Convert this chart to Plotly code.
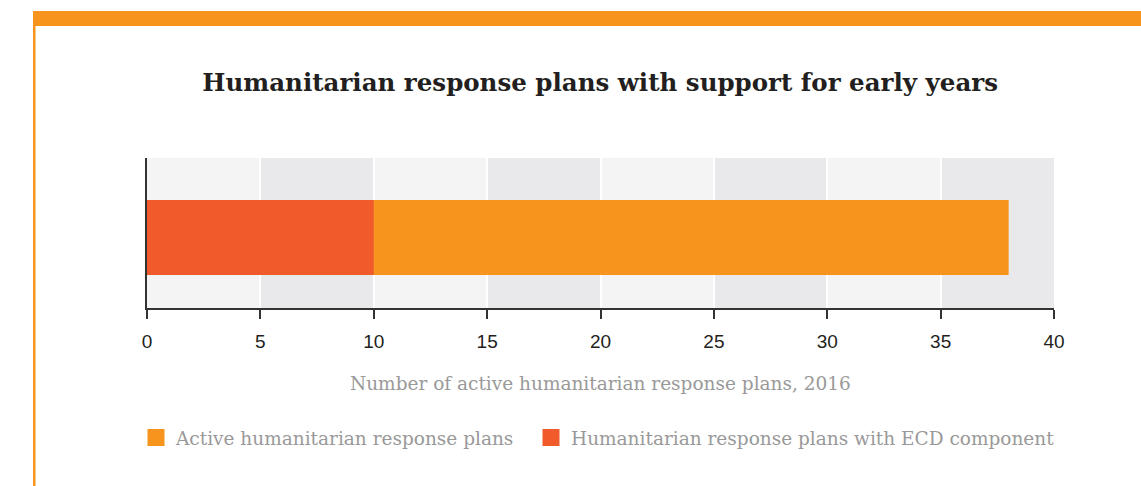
import plotly.graph_objects as go

# ---- data ----
category = ["2016"]
series_names = ["Active humanitarian response plans", "Humanitarian response plans with ECD component"]
active_plans = [38]
ecd_plans = [10]
x_ticks = [0, 5, 10, 15, 20, 25, 30, 35, 40]

ORANGE = "#f7941e"
RED = "#f15a2b"
W, H = 1141, 486
L, R, T, B = 147, 1054, 158, 308  # plot area pixel edges
PW, PH = R - L, B - T


def px_x(x):
    return (x - L) / PW


def px_y(y):
    return (B - y) / PH


fig = go.Figure()
fig.add_trace(go.Bar(y=category, x=active_plans, orientation="h", name=series_names[0],
                     marker=dict(color=ORANGE, line=dict(width=0)), width=0.5, showlegend=False))
fig.add_trace(go.Bar(y=category, x=ecd_plans, orientation="h", name=series_names[1],
                     marker=dict(color=RED, line=dict(width=0)), width=0.5, showlegend=False))
# legend entries (bigger swatches via outline), one legend box per entry
for nm, col, lg in zip(series_names, [ORANGE, RED], ["legend", "legend2"]):
    fig.add_trace(go.Bar(y=[None], x=[None], orientation="h", name=nm, legend=lg,
                         marker=dict(color=col, line=dict(color=col, width=10))))

shapes = []
for i in range(len(x_ticks) - 1):
    col = "#f4f4f4" if i % 2 == 0 else "#e9e9eb"
    shapes.append(dict(type="rect", xref="x", yref="paper", x0=x_ticks[i], x1=x_ticks[i + 1],
                       y0=0, y1=1, fillcolor=col, line=dict(width=0), layer="below"))
shapes.append(dict(type="rect", xref="paper", yref="paper", x0=px_x(33), x1=px_x(1141),
                   y0=px_y(26), y1=px_y(11), fillcolor=ORANGE, line=dict(width=0)))
shapes.append(dict(type="rect", xref="paper", yref="paper", x0=px_x(33), x1=px_x(35.5),
                   y0=px_y(486), y1=px_y(26), fillcolor=ORANGE, line=dict(width=0)))

legend_font = dict(family="DejaVu Serif", size=18.5, color="#999999")

fig.update_layout(
    width=W, height=H,
    margin=dict(l=L, r=W - R, t=T, b=H - B, pad=0),
    paper_bgcolor="white", plot_bgcolor="#f4f4f4",
    barmode="overlay",
    shapes=shapes,
    title=dict(text="<b>Humanitarian response plans with support for early years</b>",
               x=0.526, xanchor="center", y=1 - 82 / H, yanchor="middle",
               font=dict(family="DejaVu Serif", size=24.5, color="#231f20")),
    xaxis=dict(range=[0, 40], tickvals=x_ticks, showgrid=True, gridcolor="white", gridwidth=2,
               showline=True, linecolor="#333", linewidth=2, ticks="outside", ticklen=9,
               tickwidth=2, tickcolor="#333", zeroline=False, ticklabelstandoff=6,
               tickfont=dict(family="Liberation Sans", size=19, color="#231f20")),
    yaxis=dict(range=[-0.47, 0.53], showticklabels=False, showgrid=False, zeroline=False,
               showline=True, linecolor="#333", linewidth=2, ticks=""),
    showlegend=True,
    legend=dict(orientation="h", x=px_x(136), xanchor="left", y=px_y(438), yanchor="middle",
                font=legend_font, bgcolor="rgba(0,0,0,0)"),
    legend2=dict(orientation="h", x=px_x(531), xanchor="left", y=px_y(438), yanchor="middle",
                 font=legend_font, bgcolor="rgba(0,0,0,0)"),
    annotations=[dict(text="Number of active humanitarian response plans, 2016", xref="paper",
                      yref="paper", x=0.5, y=px_y(383), xanchor="center", yanchor="middle",
                      showarrow=False,
                      font=dict(family="DejaVu Serif", size=18.5, color="#999999"))],
)

fig.write_html("out.html", config={"displayModeBar": False},
               post_script="document.body.style.margin='0';")
